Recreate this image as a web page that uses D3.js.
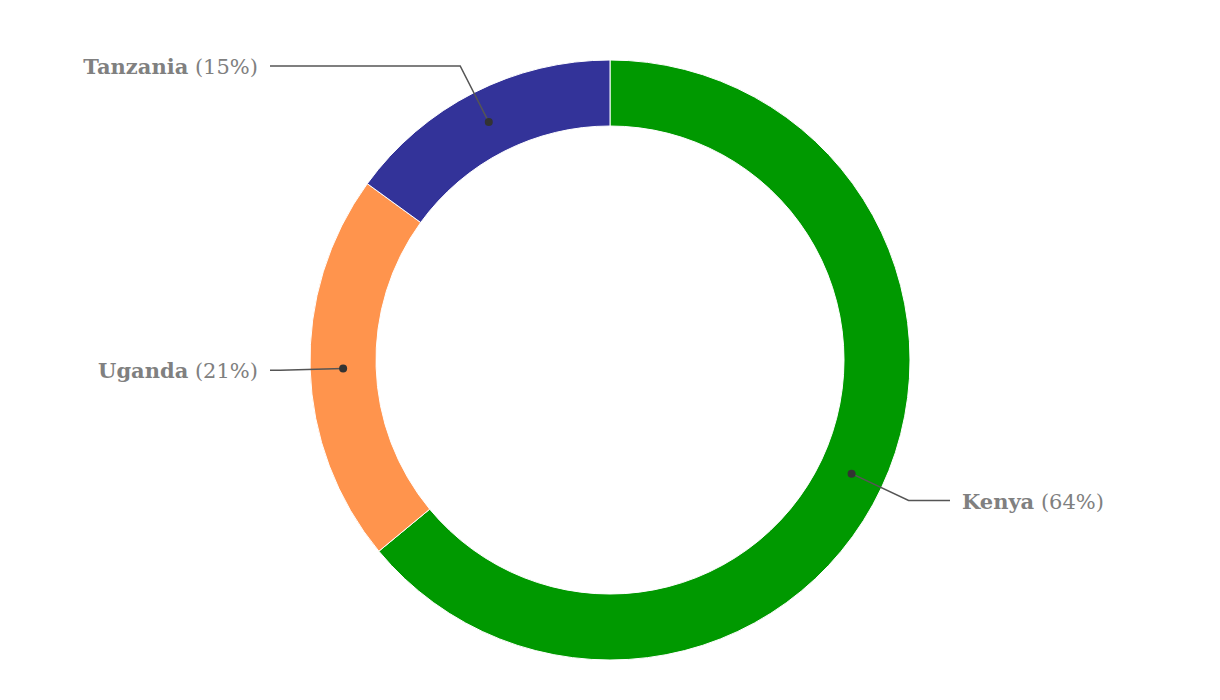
<!DOCTYPE html>
<html>
<head>
<meta charset="utf-8">
<script src="https://cdn.jsdelivr.net/npm/d3@7"></script>
<style>
  html, body { margin: 0; padding: 0; background: #fff; }
  svg { display: block; }
</style>
</head>
<body>
<svg id="chart" width="1220" height="700"></svg>
<script>
const categories = ["Kenya", "Uganda", "Tanzania"];
const values = [64, 21, 15];
const colors = ["#009900", "#ff944d", "#333399"];

const W = 1220, H = 700;
const cx = 610, cy = 360;
const outerR = 300, innerR = 234;
const elbowR = 330, labelX = 340;

const svg = d3.select("#chart");
const g = svg.append("g").attr("transform", `translate(${cx},${cy})`);

const data = categories.map((c, i) => ({ name: c, value: values[i], color: colors[i] }));
const total = d3.sum(values);

const pie = d3.pie().value(d => d.value).sort(null);
const arcs = pie(data);

const arc = d3.arc().innerRadius(innerR).outerRadius(outerR);

g.selectAll("path.slice")
  .data(arcs)
  .enter().append("path")
  .attr("class", "slice")
  .attr("d", arc)
  .attr("fill", d => d.data.color)
  .attr("stroke", "#fff")
  .attr("stroke-width", 1);

function polar(r, a) { return [r * Math.sin(a), -r * Math.cos(a)]; }

const labels = g.selectAll("g.label").data(arcs).enter().append("g").attr("class", "label");

labels.each(function(d) {
  const sel = d3.select(this);
  const mid = (d.startAngle + d.endAngle) / 2;
  const c = arc.centroid(d);
  const e = polar(elbowR, mid);
  const right = Math.sin(mid) > 0;
  const end = [right ? labelX : -labelX, e[1]];
  sel.append("polyline")
    .attr("points", [c, e, end].map(p => p.join(",")).join(" "))
    .attr("fill", "none")
    .attr("stroke", "#555")
    .attr("stroke-width", 1.5);
  sel.append("circle")
    .attr("cx", c[0]).attr("cy", c[1]).attr("r", 4)
    .attr("fill", "#333");
  const t = sel.append("text")
    .attr("x", right ? end[0] + 12 : end[0] - 12)
    .attr("y", end[1] + 8)
    .attr("text-anchor", right ? "start" : "end")
    .attr("font-family", "'DejaVu Serif', serif")
    .attr("font-size", "21px")
    .attr("fill", "#808080");
  t.append("tspan").attr("font-weight", "bold").text(d.data.name);
  t.append("tspan").text(" (" + Math.round(d.data.value / total * 100) + "%)");
});
</script>
</body>
</html>
